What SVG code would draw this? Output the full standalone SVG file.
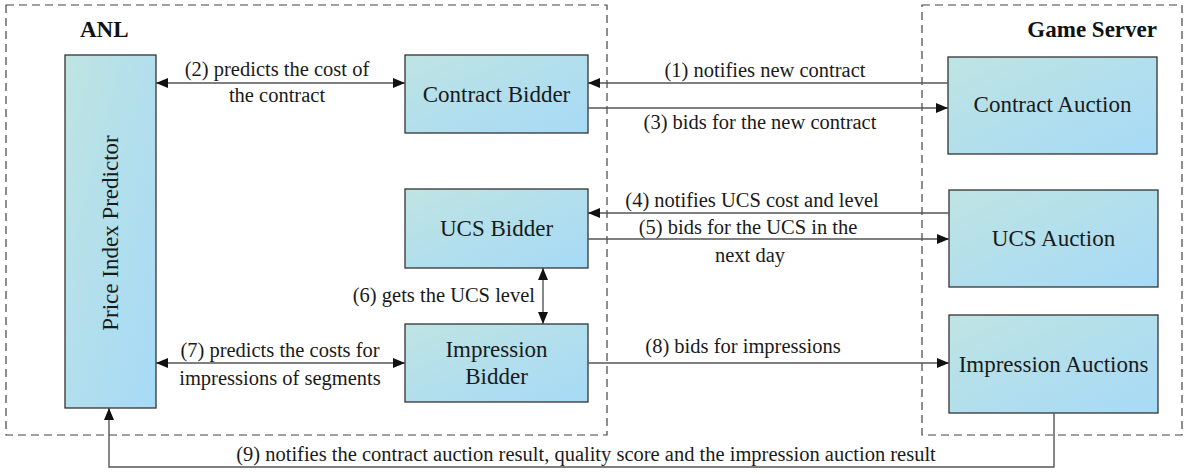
<svg xmlns="http://www.w3.org/2000/svg" width="1187" height="474" viewBox="0 0 1187 474">
<style>
.grp{fill:none;stroke:#444;stroke-width:1.2;stroke-dasharray:8 5}
.node{fill:url(#g);stroke:#333;stroke-width:1.3}
text{font-family:'Liberation Serif','Times New Roman','DejaVu Serif',Times,serif}
.nl{font-size:23px;fill:#1a1a1a;text-anchor:middle}
.el{font-size:20.5px;fill:#1a1a1a;text-anchor:middle}
.el.end{text-anchor:end}
.tl{font-size:23px;font-weight:bold;fill:#111}
.tl.end{text-anchor:end}
.c{fill:none;stroke:#555;stroke-width:1.4}
</style>
<defs>
<linearGradient id="g" x1="0" y1="0" x2="1" y2="1">
<stop offset="0" stop-color="#bfe4e2"/>
<stop offset="1" stop-color="#a6daf7"/>
</linearGradient>
<marker id="ah" viewBox="0 0 12 10" refX="12" refY="5" markerWidth="12" markerHeight="10" markerUnits="userSpaceOnUse" orient="auto-start-reverse">
<path d="M0,0 L12,5 L0,10 Z" fill="#111"/>
</marker>
</defs>
<g id="anl-group">
<rect class="grp" x="6" y="5" width="601" height="430"/>
<text class="tl" x="80" y="37">ANL</text>
</g>
<g id="game-server-group">
<rect class="grp" x="922" y="5" width="260" height="430"/>
<text class="tl end" x="1157" y="37">Game Server</text>
</g>
<g id="price-index-predictor">
<rect class="node" x="65" y="55" width="91" height="353"/>
<text class="nl" transform="translate(118,233) rotate(-90)">Price Index Predictor</text>
</g>
<g id="contract-bidder">
<rect class="node" x="405" y="55" width="183" height="78"/>
<text class="nl" x="496.5" y="102">Contract Bidder</text>
</g>
<g id="ucs-bidder">
<rect class="node" x="405" y="189" width="183" height="79"/>
<text class="nl" x="496.5" y="236">UCS Bidder</text>
</g>
<g id="impression-bidder">
<rect class="node" x="405" y="324" width="183" height="78"/>
<text class="nl" x="496.5" y="357">Impression</text>
<text class="nl" x="496.5" y="384">Bidder</text>
</g>
<g id="contract-auction">
<rect class="node" x="948" y="57" width="209" height="97"/>
<text class="nl" x="1052.5" y="112">Contract Auction</text>
</g>
<g id="ucs-auction">
<rect class="node" x="949" y="190" width="209" height="97"/>
<text class="nl" x="1053.5" y="246">UCS Auction</text>
</g>
<g id="impression-auctions">
<rect class="node" x="949" y="315" width="209" height="98"/>
<text class="nl" x="1053.5" y="372">Impression Auctions</text>
</g>
<g id="connectors">
<line class="c" x1="156" y1="83" x2="405" y2="83" marker-start="url(#ah)" marker-end="url(#ah)"/>
<line class="c" x1="948" y1="83" x2="588" y2="83" marker-end="url(#ah)"/>
<line class="c" x1="588" y1="108" x2="948" y2="108" marker-end="url(#ah)"/>
<line class="c" x1="949" y1="213" x2="588" y2="213" marker-end="url(#ah)"/>
<line class="c" x1="588" y1="239" x2="949" y2="239" marker-end="url(#ah)"/>
<line class="c" x1="543" y1="268" x2="543" y2="324" marker-start="url(#ah)" marker-end="url(#ah)"/>
<line class="c" x1="156" y1="363" x2="405" y2="363" marker-start="url(#ah)" marker-end="url(#ah)"/>
<line class="c" x1="588" y1="363" x2="949" y2="363" marker-end="url(#ah)"/>
<polyline class="c" points="1054,413 1054,467 109,467 109,408" marker-end="url(#ah)"/>
</g>
<g id="labels">
<text class="el" x="277" y="76">(2) predicts the cost of</text>
<text class="el" x="277" y="102">the contract</text>
<text class="el" x="765" y="77">(1) notifies new contract</text>
<text class="el" x="760" y="129">(3) bids for the new contract</text>
<text class="el" x="752" y="207">(4) notifies UCS cost and level</text>
<text class="el" x="748" y="234">(5) bids for the UCS in the</text>
<text class="el" x="750" y="262">next day</text>
<text class="el end" x="535" y="302">(6) gets the UCS level</text>
<text class="el" x="280" y="357">(7) predicts the costs for</text>
<text class="el" x="280" y="385">impressions of segments</text>
<text class="el" x="743" y="353">(8) bids for impressions</text>
<text class="el" x="586" y="461">(9) notifies the contract auction result, quality score and the impression auction result</text>
</g>
</svg>
